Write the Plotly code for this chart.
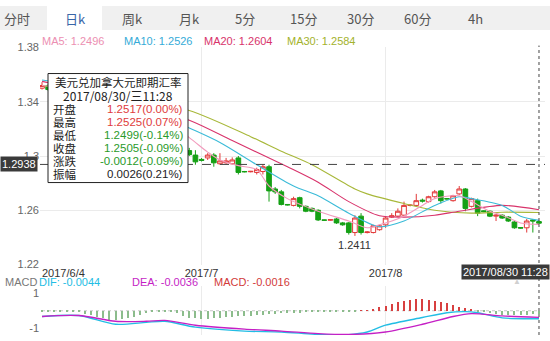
import plotly.graph_objects as go

W, H = 550, 341
NUM_FONT = "Liberation Sans, Arial, Noto Sans CJK SC, sans-serif"
CJK_FONT = "Noto Sans CJK SC, Liberation Sans, sans-serif"


def fx(x):
    return x / W


def fy(y):
    return 1 - y / H


# ---------------- data ----------------
candle_idx = list(range(82))
opens = [1.3500, 1.3520, 1.3490, 1.3510, 1.3460, 1.3475, 1.3420, 1.3440, 1.3390, 1.3300,
         1.3250, 1.3265, 1.3220, 1.3245, 1.3300, 1.3260, 1.3275, 1.3230, 1.3250, 1.3205,
         1.3230, 1.3190, 1.3170, 1.3150, 1.3040,
         1.3007, 1.2975, 1.2986, 1.3007, 1.2943, 1.2950, 1.2943, 1.2986, 1.2886, 1.2884,
         1.2879, 1.2886, 1.2921, 1.2757, 1.2736, 1.2643, 1.2636, 1.2693, 1.2629, 1.2614,
         1.2600, 1.2529, 1.2527, 1.2536, 1.2507, 1.2507, 1.2436, 1.2557, 1.2436, 1.2436,
         1.2457, 1.2493, 1.2550, 1.2557, 1.2564, 1.2636, 1.2636, 1.2675, 1.2664, 1.2700,
         1.2743, 1.2686, 1.2671, 1.2721, 1.2757, 1.2629, 1.2671, 1.2596, 1.2593, 1.2557,
         1.2564, 1.2550, 1.2514, 1.2473, 1.2471, 1.2529, 1.2517]
highs = [1.3545, 1.3530, 1.3525, 1.3515, 1.3490, 1.3480, 1.3455, 1.3445, 1.3395, 1.3310,
         1.3280, 1.3270, 1.3255, 1.3310, 1.3320, 1.3285, 1.3280, 1.3260, 1.3255, 1.3240,
         1.3235, 1.3200, 1.3180, 1.3155, 1.3060,
         1.3043, 1.2985, 1.3021, 1.3021, 1.3021, 1.2986, 1.2990, 1.3000, 1.2890, 1.2890,
         1.2914, 1.2936, 1.2936, 1.2771, 1.2750, 1.2646, 1.2700, 1.2700, 1.2636, 1.2621,
         1.2607, 1.2531, 1.2535, 1.2543, 1.2514, 1.2514, 1.2564, 1.2579, 1.2445, 1.2493,
         1.2493, 1.2557, 1.2579, 1.2614, 1.2664, 1.2643, 1.2721, 1.2686, 1.2707, 1.2750,
         1.2750, 1.2690, 1.2714, 1.2779, 1.2764, 1.2693, 1.2686, 1.2600, 1.2600, 1.2571,
         1.2571, 1.2557, 1.2521, 1.2476, 1.2536, 1.2536, 1.2525]
lows = [1.3490, 1.3480, 1.3485, 1.3450, 1.3445, 1.3410, 1.3410, 1.3380, 1.3290, 1.3240,
        1.3235, 1.3210, 1.3215, 1.3240, 1.3250, 1.3250, 1.3225, 1.3220, 1.3195, 1.3200,
        1.3180, 1.3160, 1.3140, 1.3030, 1.3000,
        1.2936, 1.2960, 1.2971, 1.2921, 1.2936, 1.2943, 1.2936, 1.2864, 1.2880, 1.2880,
        1.2864, 1.2864, 1.2664, 1.2721, 1.2636, 1.2636, 1.2629, 1.2614, 1.2586, 1.2586,
        1.2521, 1.2525, 1.2523, 1.2500, 1.2486, 1.2421, 1.2411, 1.2421, 1.2430, 1.2430,
        1.2450, 1.2471, 1.2543, 1.2550, 1.2557, 1.2629, 1.2629, 1.2657, 1.2657, 1.2693,
        1.2650, 1.2680, 1.2664, 1.2714, 1.2593, 1.2621, 1.2557, 1.2586, 1.2550, 1.2521,
        1.2536, 1.2514, 1.2464, 1.2466, 1.2436, 1.2436, 1.2499]
closes = [1.3520, 1.3490, 1.3510, 1.3460, 1.3475, 1.3420, 1.3440, 1.3390, 1.3300, 1.3250,
          1.3265, 1.3220, 1.3245, 1.3300, 1.3260, 1.3275, 1.3230, 1.3250, 1.3205, 1.3230,
          1.3190, 1.3170, 1.3150, 1.3040, 1.3010,
          1.2957, 1.2968, 1.3007, 1.2950, 1.2964, 1.2964, 1.2971, 1.2879, 1.2884, 1.2887,
          1.2900, 1.2921, 1.2743, 1.2736, 1.2643, 1.2640, 1.2686, 1.2629, 1.2593, 1.2593,
          1.2529, 1.2527, 1.2531, 1.2507, 1.2493, 1.2436, 1.2543, 1.2436, 1.2440, 1.2486,
          1.2486, 1.2543, 1.2560, 1.2593, 1.2636, 1.2638, 1.2671, 1.2668, 1.2700, 1.2736,
          1.2671, 1.2684, 1.2707, 1.2757, 1.2614, 1.2686, 1.2579, 1.2590, 1.2557, 1.2564,
          1.2543, 1.2521, 1.2471, 1.2469, 1.2521, 1.2521, 1.2505]

ma5_x = [0, 5, 10, 15, 20, 24, 27, 29, 32, 35, 37, 40, 45, 50, 53, 55, 59, 62, 64, 68, 70, 73, 75, 78, 81]
ma5_v = [1.3520, 1.3490, 1.3420, 1.3310, 1.3260, 1.3136, 1.3029, 1.2971, 1.2929, 1.2900, 1.2779,
         1.2686, 1.2593, 1.2521, 1.2471, 1.2493, 1.2557, 1.2636, 1.2686, 1.2707, 1.2664, 1.2593,
         1.2564, 1.2507, 1.2496]
ma10_x = [0, 8, 16, 24, 29, 35, 41, 45, 50, 55, 59, 64, 68, 70, 75, 78, 81]
ma10_v = [1.3560, 1.3500, 1.3370, 1.3207, 1.3100, 1.2936, 1.2779, 1.2707, 1.2579, 1.2479,
          1.2521, 1.2636, 1.2700, 1.2686, 1.2636, 1.2557, 1.2526]
ma20_x = [0, 12, 24, 31, 40, 45, 50, 55, 59, 64, 68, 75, 81]
ma20_v = [1.3550, 1.3430, 1.3264, 1.3114, 1.2921, 1.2807, 1.2664, 1.2560, 1.2550, 1.2564,
          1.2593, 1.2636, 1.2604]
ma30_x = [0, 12, 24, 34, 39, 44, 51, 53, 59, 64, 70, 75, 81]
ma30_v = [1.3520, 1.3450, 1.3336, 1.3143, 1.3036, 1.2936, 1.2757, 1.2721, 1.2650, 1.2600,
          1.2579, 1.2586, 1.2584]

dif_x = [0, 6, 12, 17, 20, 25, 33, 39, 45, 50, 53, 56, 62, 66, 69, 71, 75, 79, 81]
dif_v = [-0.32, -0.27, -0.76, -0.65, -0.59, -0.92, -1.14, -1.19, -1.33, -1.34, -1.19, -0.81,
         -0.38, -0.11, -0.05, -0.11, -0.40, -0.45, -0.45]
dea_x = [0, 6, 12, 17, 20, 25, 33, 39, 45, 50, 56, 62, 67, 70, 75, 81]
dea_v = [-0.32, -0.27, -0.59, -0.59, -0.54, -0.81, -1.03, -1.14, -1.28, -1.33, -1.19, -0.76,
         -0.32, -0.16, -0.29, -0.37]
macd_hist = ([-0.02] * 7
             + [-0.15, -0.25, -0.35, -0.42, -0.48, -0.50, -0.46, -0.40, -0.32, -0.22, -0.12]
             + [-0.05, -0.03, -0.02, -0.05, -0.10]
             + [-0.30, -0.38, -0.42, -0.45, -0.45, -0.42, -0.40, -0.36, -0.32, -0.30, -0.28,
                -0.26, -0.24, -0.20, -0.18, -0.15, -0.12, -0.10, -0.10, -0.09, -0.08, -0.07,
                -0.06, -0.05, -0.04, -0.03, -0.02, -0.02, -0.02]
             + [0.02, 0.05, 0.10]
             + [0.20, 0.30, 0.40, 0.50, 0.56, 0.62, 0.66, 0.66, 0.63, 0.56, 0.50, 0.42, 0.34,
                0.25, 0.15, 0.08]
             + [-0.04, -0.08, -0.12, -0.16, -0.20, -0.22, -0.22, -0.20, -0.20, -0.18, -0.16])

y_ticks = [1.22, 1.26, 1.30, 1.34, 1.38]
y_tick_text = ["1.22", "1.26", "1.3", "1.34", "1.38"]
month_ticks = [26, 56]
month_text = ["2017/7", "2017/8"]
tabs = [("分时", 17), ("日k", 75), ("周k", 132), ("月k", 189), ("5分", 245),
        ("15分", 303), ("30分", 360), ("60分", 417), ("4h", 475)]
ma_legend = [("MA5: 1.2496", 40, "#ec8fb2"), ("MA10: 1.2526", 122, "#35abd8"),
             ("MA20: 1.2604", 202, "#d8336b"), ("MA30: 1.2584", 285, "#a3b22c")]
tip_rows = [("开盘", "1.2517(0.00%)", "#e03c3c"), ("最高", "1.2525(0.07%)", "#e03c3c"),
            ("最低", "1.2499(-0.14%)", "#2a9a2a"), ("收盘", "1.2505(-0.09%)", "#2a9a2a"),
            ("涨跌", "-0.0012(-0.09%)", "#2a9a2a"), ("振幅", "0.0026(0.21%)", "#222222")]
macd_legend = [("MACD", 3, "#777777"), ("DIF: -0.0044", 37, "#22bde4"),
               ("DEA: -0.0036", 130, "#c51fc5"), ("MACD: -0.0016", 212, "#d23a3a")]

RED = "#e23838"
GREEN = "#15a015"

# ---------------- figure ----------------
fig = go.Figure()
fig.add_trace(go.Candlestick(
    x=candle_idx, open=opens, high=highs, low=lows, close=closes,
    increasing=dict(line=dict(color=RED, width=1), fillcolor="white"),
    decreasing=dict(line=dict(color=GREEN, width=1), fillcolor=GREEN),
    whiskerwidth=0, xaxis="x", yaxis="y", hoverinfo="skip"))

for xs, vs, col in [(ma30_x, ma30_v, "#a8b83a"), (ma20_x, ma20_v, "#d8336b"),
                    (ma10_x, ma10_v, "#3bbbd8"), (ma5_x, ma5_v, "#f29bbd")]:
    fig.add_trace(go.Scatter(x=xs, y=vs, mode="lines", xaxis="x", yaxis="y",
                             line=dict(color=col, width=1.1, shape="spline", smoothing=0.8),
                             hoverinfo="skip"))

fig.add_trace(go.Bar(x=candle_idx, y=macd_hist, xaxis="x2", yaxis="y2", width=0.18,
                     marker=dict(color=["#d84040" if v > 0 else "#8cbc8c" for v in macd_hist],
                                 line=dict(width=0)),
                     hoverinfo="skip"))
fig.add_trace(go.Scatter(x=dif_x, y=dif_v, mode="lines", xaxis="x2", yaxis="y2",
                         line=dict(color="#22bde4", width=1.4, shape="spline", smoothing=0.8),
                         hoverinfo="skip"))
fig.add_trace(go.Scatter(x=dea_x, y=dea_v, mode="lines", xaxis="x2", yaxis="y2",
                         line=dict(color="#c51fc5", width=1.4, shape="spline", smoothing=0.8),
                         hoverinfo="skip"))

xr = [-0.33, 81.98]
fig.update_layout(
    width=W, height=H, margin=dict(l=0, r=0, t=0, b=0),
    paper_bgcolor="white", plot_bgcolor="white",
    showlegend=False, hovermode=False, dragmode=False, bargap=0,
    boxgap=0.2, boxgroupgap=0.05,
    font=dict(family=NUM_FONT, size=11, color="#333"),
    xaxis=dict(domain=[fx(40), fx(545)], range=xr, anchor="y",
               tickmode="array", tickvals=month_ticks, ticktext=month_text,
               showgrid=True, gridcolor="#ebebeb", gridwidth=1, zeroline=False,
               showline=False, ticks="", tickfont=dict(size=11, color="#333"),
               rangeslider=dict(visible=False), fixedrange=True),
    yaxis=dict(domain=[fy(268), fy(43)], range=[1.22, 1.38], anchor="x",
               tickmode="array", tickvals=y_ticks, ticktext=y_tick_text,
               showgrid=True, gridcolor="#ebebeb", zeroline=False, showline=False,
               ticks="", tickfont=dict(size=11, color="#666"), fixedrange=True),
    xaxis2=dict(domain=[fx(40), fx(545)], range=xr, anchor="y2",
                tickmode="array", tickvals=month_ticks, showticklabels=False,
                showgrid=True, gridcolor="#ebebeb", zeroline=False, showline=False,
                ticks="", fixedrange=True),
    yaxis2=dict(domain=[0, fy(290)], range=[-1.36, 1.40], anchor="x2",
                tickmode="array", tickvals=[1, -1], ticktext=["1", "-1"],
                showgrid=False, zeroline=False, showline=False, ticks="",
                tickfont=dict(size=11, color="#666"), fixedrange=True),
)

shapes = []
# tab bar
shapes.append(dict(type="rect", xref="paper", yref="paper", x0=0, x1=1, y0=fy(25), y1=1,
                   fillcolor="#f0f0f0", line=dict(width=0), layer="above"))
shapes.append(dict(type="rect", xref="paper", yref="paper", x0=fx(47), x1=fx(102),
                   y0=fy(25), y1=1, fillcolor="white", line=dict(width=0), layer="above"))
# MACD zero line
shapes.append(dict(type="line", xref="x2", yref="y2", x0=0, x1=81, y0=0, y1=0,
                   line=dict(color="#c8c8c8", width=1, dash="dot"), layer="below"))
# crosshair
shapes.append(dict(type="line", xref="paper", yref="y", x0=fx(40), x1=fx(545),
                   y0=1.2938, y1=1.2938, line=dict(color="#444", width=1, dash="dash"),
                   layer="above"))
shapes.append(dict(type="line", xref="x", yref="paper", x0=81, x1=81, y0=0, y1=fy(41),
                   line=dict(color="#444", width=1, dash="dot"), layer="above"))
# tooltip box
shapes.append(dict(type="rect", xref="paper", yref="paper", x0=fx(48), x1=fx(188),
                   y0=fy(183), y1=fy(70), fillcolor="white",
                   line=dict(color="#222", width=1), layer="above"))
fig.update_layout(shapes=shapes)


def note(text, x, y, color="#333", size=11, family=NUM_FONT, xanchor="left",
         yanchor="middle", **kw):
    fig.add_annotation(text=text, x=fx(x), y=fy(y), xref="paper", yref="paper",
                       showarrow=False, xanchor=xanchor, yanchor=yanchor,
                       font=dict(color=color, size=size, family=family), **kw)


for t, cx in tabs:
    note(t, cx, 13, color="#3a66a8" if t == "日k" else "#555", size=13,
         family=CJK_FONT, xanchor="center")
for t, x0, col in ma_legend:
    note(t, x0, 36, color=col, size=11)

# tooltip content
note("美元兑加拿大元即期汇率", 118, 79, color="#222", size=11.5, family=CJK_FONT,
     xanchor="center")
note("2017/08/30/三11:28", 118, 93, color="#222", size=12, family=CJK_FONT,
     xanchor="center")
for i, (lab, val, col) in enumerate(tip_rows):
    yy = 107 + i * 13.4
    note(lab, 51, yy, color="#222", size=11.5, family=CJK_FONT)
    note(val, 185, yy, color=col, size=11.5, xanchor="right")

# crosshair labels
fig.add_annotation(text="1.2938", x=0, y=1.2938, xref="paper", yref="y", showarrow=False,
                   xanchor="left", yanchor="middle", bgcolor="#3a3a3a", borderpad=1,
                   font=dict(color="white", size=11, family=NUM_FONT))
note("2017/08/30 11:28", 550, 276, color="white", size=11, xanchor="right",
     bgcolor="#3a3a3a", borderpad=1)
note("2017/6/4", 40, 277, color="#333", size=11)

# low marker
fig.add_annotation(text="1.2411", x=51, y=1.2411, xref="x", yref="y", showarrow=False,
                   xanchor="center", yanchor="top", yshift=-1,
                   font=dict(color="#333", size=11, family=NUM_FONT))

for t, x0, col in macd_legend:
    note(t, x0, 286, color=col, size=11)
note("▲", 517, 286, color="#d0d0d0", size=8, xanchor="center")

fig.write_html("out.html")
